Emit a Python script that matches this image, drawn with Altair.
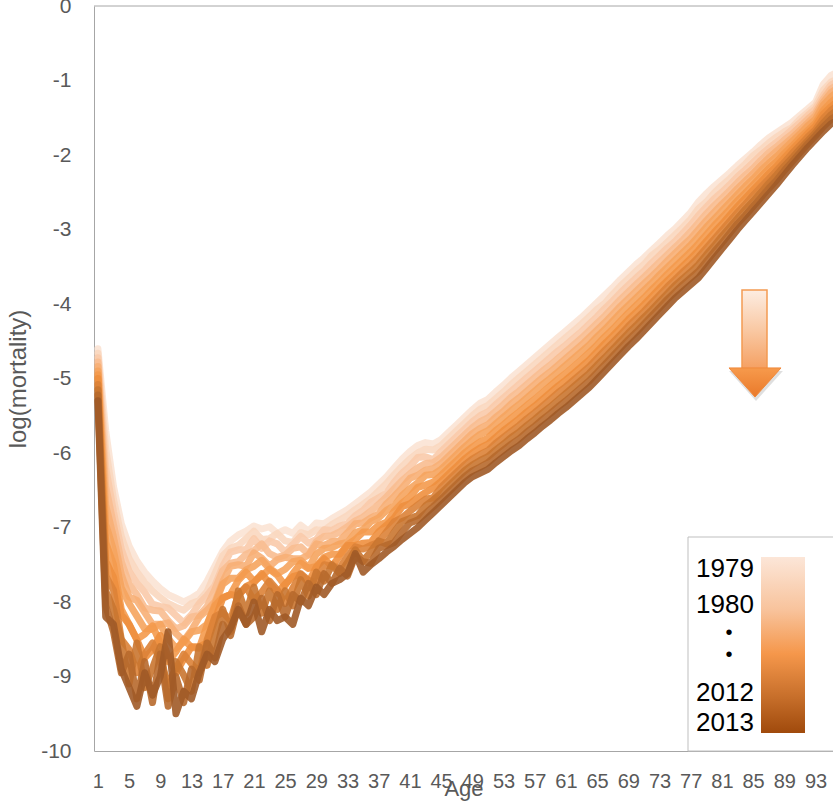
import altair as alt
import pandas as pd

ages = list(range(1, 97))
years = [1979, 1982, 1985, 1988, 1991, 1994, 1997, 2000, 2003, 2006, 2009, 2013]

y1979 = [
    -4.60, -5.70, -6.45, -6.95, -7.25, -7.45, -7.60, -7.72, -7.82, -7.90,
    -7.95, -8.00, -7.95, -7.88, -7.72, -7.52, -7.32, -7.18, -7.10, -7.05,
    -6.98, -7.02, -6.99, -7.08, -7.03, -7.08, -6.97, -7.05, -6.94, -6.95,
    -6.88, -6.82, -6.76, -6.68, -6.60, -6.52, -6.42, -6.32, -6.20, -6.08,
    -5.98, -5.90, -5.86, -5.88, -5.82, -5.72, -5.62, -5.52, -5.42, -5.33,
    -5.28, -5.18, -5.09, -4.99, -4.90, -4.81, -4.72, -4.63, -4.54, -4.45,
    -4.36, -4.27, -4.18, -4.08, -3.98, -3.88, -3.78, -3.67, -3.57, -3.47,
    -3.38, -3.28, -3.18, -3.08, -2.99, -2.88, -2.77, -2.63, -2.52, -2.42,
    -2.33, -2.24, -2.14, -2.05, -1.96, -1.86, -1.77, -1.70, -1.63, -1.56,
    -1.47, -1.38, -1.29, -1.05, -0.93, -0.88]
y1982 = [
    -4.66, -5.95, -6.62, -7.12, -7.42, -7.60, -7.74, -7.85, -7.94, -8.02,
    -8.07, -8.11, -8.02, -7.98, -7.86, -7.62, -7.38, -7.28, -7.24, -7.15,
    -7.05, -7.16, -7.15, -7.08, -7.18, -7.20, -7.07, -7.10, -7.03, -7.04,
    -6.96, -6.90, -6.84, -6.76, -6.69, -6.61, -6.51, -6.41, -6.29, -6.18,
    -6.08, -6.00, -5.95, -5.96, -5.90, -5.80, -5.70, -5.60, -5.50, -5.41,
    -5.36, -5.27, -5.18, -5.08, -4.99, -4.90, -4.81, -4.72, -4.63, -4.54,
    -4.45, -4.36, -4.27, -4.17, -4.07, -3.99, -3.87, -3.76, -3.66, -3.56,
    -3.47, -3.35, -3.27, -3.17, -3.07, -2.97, -2.86, -2.72, -2.63, -2.51,
    -2.41, -2.32, -2.22, -2.12, -2.01, -1.93, -1.84, -1.76, -1.69, -1.63,
    -1.52, -1.43, -1.34, -1.13, -1.02, -0.97]
y1985 = [
    -4.72, -6.20, -6.79, -7.29, -7.59, -7.75, -7.87, -8.03, -8.06, -8.08,
    -8.18, -8.28, -8.17, -8.02, -7.91, -7.78, -7.52, -7.33, -7.30, -7.30,
    -7.15, -7.28, -7.18, -7.22, -7.33, -7.23, -7.12, -7.21, -7.16, -7.03,
    -7.04, -6.98, -6.95, -6.84, -6.77, -6.66, -6.60, -6.54, -6.39, -6.27,
    -6.18, -6.06, -6.05, -6.09, -5.98, -5.88, -5.78, -5.68, -5.58, -5.50,
    -5.45, -5.35, -5.26, -5.17, -5.08, -4.99, -4.90, -4.81, -4.72, -4.63,
    -4.55, -4.46, -4.37, -4.27, -4.17, -4.06, -3.96, -3.85, -3.75, -3.65,
    -3.56, -3.45, -3.35, -3.25, -3.16, -3.05, -2.94, -2.81, -2.70, -2.59,
    -2.50, -2.40, -2.29, -2.20, -2.10, -2.00, -1.91, -1.83, -1.75, -1.66,
    -1.57, -1.47, -1.38, -1.20, -1.06, -1.00]
y1988 = [
    -4.78, -6.45, -6.96, -7.46, -7.76, -7.90, -8.08, -8.11, -8.12, -8.25,
    -8.36, -8.32, -8.20, -8.18, -8.06, -7.83, -7.58, -7.48, -7.46, -7.36,
    -7.31, -7.22, -7.35, -7.40, -7.37, -7.28, -7.26, -7.36, -7.19, -7.12,
    -7.11, -7.06, -6.99, -6.91, -6.86, -6.78, -6.69, -6.59, -6.48, -6.37,
    -6.28, -6.20, -6.14, -6.13, -6.06, -5.96, -5.86, -5.76, -5.66, -5.58,
    -5.53, -5.44, -5.35, -5.25, -5.17, -5.08, -4.99, -4.90, -4.82, -4.73,
    -4.64, -4.55, -4.46, -4.36, -4.26, -4.16, -4.05, -3.94, -3.84, -3.74,
    -3.64, -3.54, -3.44, -3.34, -3.24, -3.14, -3.03, -2.91, -2.79, -2.68,
    -2.58, -2.48, -2.37, -2.27, -2.18, -2.07, -1.97, -1.89, -1.80, -1.72,
    -1.62, -1.52, -1.43, -1.25, -1.11, -1.05]
y1991 = [
    -4.84, -6.70, -7.13, -7.63, -7.93, -7.98, -8.14, -8.30, -8.30, -8.28,
    -8.42, -8.52, -8.38, -8.20, -8.11, -8.00, -7.73, -7.52, -7.50, -7.52,
    -7.34, -7.41, -7.52, -7.43, -7.40, -7.42, -7.42, -7.37, -7.22, -7.24,
    -7.19, -7.18, -7.07, -6.95, -6.94, -6.87, -6.82, -6.68, -6.58, -6.47,
    -6.34, -6.30, -6.23, -6.21, -6.14, -6.04, -5.94, -5.84, -5.74, -5.67,
    -5.62, -5.52, -5.44, -5.34, -5.26, -5.17, -5.08, -4.99, -4.91, -4.82,
    -4.73, -4.64, -4.55, -4.45, -4.35, -4.25, -4.14, -4.03, -3.93, -3.83,
    -3.73, -3.63, -3.53, -3.42, -3.32, -3.22, -3.12, -3.00, -2.88, -2.77,
    -2.66, -2.56, -2.45, -2.35, -2.25, -2.14, -2.04, -1.95, -1.86, -1.77,
    -1.67, -1.57, -1.47, -1.29, -1.16, -1.09]
y1994 = [
    -4.90, -6.95, -7.31, -7.81, -8.02, -8.19, -8.36, -8.36, -8.30, -8.49,
    -8.62, -8.54, -8.40, -8.38, -8.30, -8.03, -7.76, -7.68, -7.68, -7.57,
    -7.52, -7.44, -7.55, -7.62, -7.56, -7.46, -7.44, -7.54, -7.36, -7.28,
    -7.27, -7.22, -7.20, -7.07, -7.03, -6.92, -6.87, -6.77, -6.71, -6.57,
    -6.48, -6.40, -6.30, -6.29, -6.22, -6.12, -6.02, -5.92, -5.83, -5.75,
    -5.70, -5.61, -5.52, -5.43, -5.35, -5.26, -5.17, -5.08, -5.00, -4.91,
    -4.82, -4.73, -4.64, -4.55, -4.44, -4.34, -4.23, -4.12, -4.02, -3.92,
    -3.82, -3.72, -3.61, -3.51, -3.41, -3.31, -3.21, -3.09, -2.97, -2.86,
    -2.75, -2.64, -2.53, -2.42, -2.32, -2.21, -2.11, -2.02, -1.92, -1.82,
    -1.72, -1.61, -1.52, -1.33, -1.22, -1.14]
y1997 = [
    -4.95, -7.20, -7.50, -8.10, -8.30, -8.50, -8.43, -8.32, -8.55, -8.80,
    -8.67, -8.50, -8.61, -8.62, -8.31, -8.05, -7.94, -7.90, -7.71, -7.60,
    -7.72, -7.65, -7.56, -7.64, -7.78, -7.62, -7.48, -7.55, -7.52, -7.40,
    -7.36, -7.36, -7.23, -7.16, -7.06, -7.06, -6.97, -6.93, -6.78, -6.67,
    -6.59, -6.46, -6.43, -6.39, -6.30, -6.20, -6.10, -6.00, -5.92, -5.85,
    -5.80, -5.70, -5.62, -5.53, -5.45, -5.36, -5.28, -5.19, -5.10, -5.01,
    -4.93, -4.84, -4.75, -4.65, -4.55, -4.44, -4.34, -4.23, -4.12, -4.02,
    -3.92, -3.81, -3.71, -3.60, -3.50, -3.40, -3.30, -3.19, -3.07, -2.95,
    -2.84, -2.73, -2.61, -2.51, -2.40, -2.29, -2.18, -2.09, -1.98, -1.88,
    -1.77, -1.67, -1.57, -1.40, -1.29, -1.20]
y2000 = [
    -5.00, -7.45, -7.67, -8.17, -8.30, -8.51, -8.75, -8.64, -8.45, -8.73,
    -8.95, -8.77, -8.60, -8.60, -8.55, -8.24, -7.95, -7.90, -7.92, -7.79,
    -7.74, -7.62, -7.75, -7.88, -7.76, -7.66, -7.63, -7.74, -7.53, -7.42,
    -7.52, -7.38, -7.24, -7.24, -7.21, -7.20, -7.06, -6.97, -6.87, -6.72,
    -6.68, -6.60, -6.53, -6.47, -6.38, -6.28, -6.18, -6.08, -6.00, -5.93,
    -5.88, -5.79, -5.70, -5.62, -5.54, -5.45, -5.37, -5.28, -5.19, -5.10,
    -5.02, -4.93, -4.84, -4.75, -4.64, -4.53, -4.43, -4.32, -4.21, -4.11,
    -4.01, -3.90, -3.79, -3.69, -3.59, -3.49, -3.39, -3.28, -3.16, -3.04,
    -2.93, -2.81, -2.69, -2.58, -2.47, -2.36, -2.25, -2.15, -2.04, -1.93,
    -1.82, -1.71, -1.61, -1.45, -1.35, -1.26]
y2003 = [
    -5.08, -7.65, -7.84, -8.50, -8.64, -8.95, -8.70, -8.55, -8.79, -9.10,
    -8.90, -8.70, -8.83, -8.95, -8.51, -8.20, -8.14, -8.25, -7.90, -7.80,
    -7.98, -7.87, -7.72, -7.84, -8.02, -7.81, -7.62, -7.71, -7.74, -7.50,
    -7.52, -7.54, -7.39, -7.26, -7.29, -7.24, -7.20, -7.06, -6.92, -6.87,
    -6.78, -6.70, -6.62, -6.60, -6.46, -6.36, -6.26, -6.16, -6.08, -6.02,
    -5.97, -5.87, -5.79, -5.71, -5.63, -5.54, -5.46, -5.37, -5.28, -5.19,
    -5.11, -5.02, -4.93, -4.84, -4.73, -4.62, -4.52, -4.41, -4.30, -4.20,
    -4.10, -3.99, -3.88, -3.77, -3.67, -3.57, -3.48, -3.37, -3.25, -3.13,
    -3.01, -2.89, -2.77, -2.66, -2.54, -2.43, -2.32, -2.21, -2.10, -1.98,
    -1.87, -1.76, -1.66, -1.51, -1.40, -1.32]
y2006 = [
    -5.15, -7.85, -8.10, -8.51, -9.10, -8.55, -9.15, -8.89, -8.60, -9.30,
    -8.80, -8.98, -9.20, -8.60, -8.85, -8.45, -8.10, -8.40, -7.85, -8.15,
    -7.80, -8.15, -7.85, -8.10, -7.85, -8.05, -7.70, -7.92, -7.60, -7.72,
    -7.50, -7.62, -7.47, -7.30, -7.45, -7.32, -7.18, -7.22, -7.06, -6.92,
    -6.88, -6.84, -6.71, -6.63, -6.54, -6.44, -6.34, -6.24, -6.16, -6.10,
    -6.05, -5.96, -5.88, -5.79, -5.72, -5.63, -5.55, -5.46, -5.38, -5.29,
    -5.20, -5.11, -5.02, -4.93, -4.82, -4.72, -4.61, -4.50, -4.39, -4.29,
    -4.18, -4.08, -3.97, -3.86, -3.75, -3.66, -3.57, -3.47, -3.34, -3.22,
    -3.09, -2.97, -2.85, -2.73, -2.62, -2.50, -2.38, -2.27, -2.15, -2.04,
    -1.92, -1.81, -1.70, -1.57, -1.46, -1.38]
y2009 = [
    -5.22, -8.05, -8.40, -8.95, -8.70, -9.30, -8.80, -9.35, -8.70, -9.40,
    -9.00, -9.35, -8.90, -9.05, -8.55, -8.75, -8.30, -8.45, -8.05, -8.30,
    -8.20, -7.95, -8.25, -7.90, -8.20, -7.90, -8.00, -7.75, -7.90, -7.62,
    -7.75, -7.55, -7.65, -7.38, -7.46, -7.48, -7.28, -7.24, -7.20, -7.06,
    -6.94, -6.90, -6.81, -6.72, -6.62, -6.52, -6.42, -6.32, -6.24, -6.19,
    -6.13, -6.04, -5.96, -5.88, -5.81, -5.72, -5.64, -5.55, -5.47, -5.38,
    -5.30, -5.21, -5.12, -5.03, -4.92, -4.81, -4.70, -4.59, -4.48, -4.38,
    -4.27, -4.16, -4.05, -3.94, -3.84, -3.74, -3.65, -3.56, -3.43, -3.30,
    -3.18, -3.05, -2.92, -2.81, -2.69, -2.57, -2.45, -2.34, -2.21, -2.09,
    -1.97, -1.85, -1.74, -1.62, -1.52, -1.45]
y2013 = [
    -5.30, -8.20, -8.30, -8.90, -9.15, -9.40, -8.95, -9.25, -9.00, -8.40,
    -9.50, -9.20, -9.30, -8.95, -8.70, -8.80, -8.50, -8.35, -8.10, -8.30,
    -8.00, -8.40, -8.10, -8.25, -8.20, -8.30, -7.95, -8.05, -7.80, -7.90,
    -7.75, -7.70, -7.62, -7.35, -7.60, -7.50, -7.42, -7.33, -7.25, -7.16,
    -7.08, -7.00, -6.90, -6.80, -6.70, -6.60, -6.50, -6.40, -6.32, -6.27,
    -6.22, -6.13, -6.05, -5.97, -5.90, -5.81, -5.73, -5.64, -5.56, -5.47,
    -5.39, -5.30, -5.21, -5.12, -5.01, -4.90, -4.79, -4.68, -4.57, -4.47,
    -4.36, -4.25, -4.14, -4.03, -3.92, -3.83, -3.74, -3.65, -3.52, -3.39,
    -3.26, -3.13, -3.00, -2.88, -2.76, -2.64, -2.52, -2.40, -2.27, -2.14,
    -2.02, -1.90, -1.79, -1.68, -1.58, -1.52]

series = [y1979, y1982, y1985, y1988, y1991, y1994,
          y1997, y2000, y2003, y2006, y2009, y2013]

x_tick_values = list(range(1, 94, 4))
y_tick_values = list(range(-10, 1))
legend_labels = ["1979", "1980", "•", "•", "2012", "2013"]

rows = []
for yr, vals in zip(years, series):
    for a, v in zip(ages, vals):
        rows.append({"Age": a, "Year": yr, "logm": v})
df = pd.DataFrame(rows)

FONT = "Liberation Sans, Arial, sans-serif"
GRAY = "#595959"
BORDER = "#A6A6A6"
W, H = 739, 745

color_domain = [1979, 1985.8, 1992.6, 1999.4, 2006.2, 2013]
color_range = ["#FBE3D4", "#F8C7A4", "#F6A866", "#F2923F", "#C87430", "#A05A27"]

lines = alt.Chart(df).mark_line(
    strokeWidth=7, strokeJoin="round", strokeCap="round", opacity=0.9, clip=True
).encode(
    x=alt.X("Age:Q",
            scale=alt.Scale(domain=[0.5, 95.24], nice=False, zero=False),
            axis=alt.Axis(values=x_tick_values, format="d", ticks=False, grid=False,
                          domainColor=BORDER, labelColor=GRAY, labelFont=FONT,
                          labelFontSize=20, labelPadding=20, labelOverlap=False,
                          labelFlush=False, title="Age", titleFont=FONT,
                          titleFontSize=22, titleColor=GRAY, titleFontWeight="normal",
                          titleY=27, titleX=W / 2)),
    y=alt.Y("logm:Q",
            scale=alt.Scale(domain=[-10, 0], nice=False, zero=False),
            axis=alt.Axis(values=y_tick_values,
                          labelExpr="datum.value == 0 ? '0' : '-' + abs(datum.value)",
                          ticks=False, grid=False, domainColor=BORDER,
                          labelColor=GRAY, labelFont=FONT, labelFontSize=21,
                          labelPadding=23, title="log(mortality)", titleFont=FONT,
                          titleFontSize=24, titleColor=GRAY, titleFontWeight="normal",
                          titleX=-64, titleY=H / 2)),
    color=alt.Color("Year:Q", scale=alt.Scale(domain=color_domain, range=color_range),
                    legend=None),
    detail="Year:N",
    order=alt.Order("Age:Q"),
)

one = pd.DataFrame({"k": [0]})

top_border = alt.Chart(one).mark_rule(color=BORDER, strokeWidth=1).encode(
    x=alt.value(0), x2=alt.value(W), y=alt.value(0))

shaft_grad = alt.LinearGradient(
    gradient="linear", x1=0, x2=0, y1=0, y2=1,
    stops=[alt.GradientStop(color="#FDEDE2", offset=0),
           alt.GradientStop(color="#F9C9A4", offset=0.5),
           alt.GradientStop(color="#F5A062", offset=1)])
head_grad = alt.LinearGradient(
    gradient="linear", x1=0, x2=0, y1=0, y2=1,
    stops=[alt.GradientStop(color="#F79A4C", offset=0),
           alt.GradientStop(color="#E9792A", offset=1)])
TRI = "M-1,-0.56L1,-0.56L0,0.56Z"

head_shadow = alt.Chart(one).mark_point(
    shape=TRI, size=2900, filled=True, color="#8C8C8C", opacity=0.28, strokeWidth=0
).encode(x=alt.value(662), y=alt.value(380))
shaft = alt.Chart(one).mark_rect(fill=shaft_grad, stroke="#F39A52", strokeWidth=1.5).encode(
    x=alt.value(648), x2=alt.value(673), y=alt.value(284), y2=alt.value(363))
head = alt.Chart(one).mark_point(
    shape=TRI, size=2704, filled=True, fill=head_grad, stroke="#F0883A",
    strokeWidth=1, opacity=1
).encode(x=alt.value(661), y=alt.value(376.5))

legend_box = alt.Chart(one).mark_rect(fill="white", stroke="#BFBFBF", strokeWidth=1).encode(
    x=alt.value(594), x2=alt.value(760), y=alt.value(531), y2=alt.value(745))
bar_grad = alt.LinearGradient(
    gradient="linear", x1=0, x2=0, y1=0, y2=1,
    stops=[alt.GradientStop(color="#FCE6D8", offset=0),
           alt.GradientStop(color="#F8C39C", offset=0.3),
           alt.GradientStop(color="#F5974B", offset=0.55),
           alt.GradientStop(color="#C66E2A", offset=0.8),
           alt.GradientStop(color="#A04A0C", offset=1)])
legend_bar = alt.Chart(one).mark_rect(fill=bar_grad).encode(
    x=alt.value(667), x2=alt.value(711), y=alt.value(551), y2=alt.value(727))

label_pos = [563, 599, 627, 649, 687, 717]
legend_texts = []
for lab, yp in zip(legend_labels, label_pos):
    if lab == "•":
        t = alt.Chart(one).mark_text(text=lab, align="center", baseline="middle",
                                     font=FONT, fontSize=20, color="black").encode(
            x=alt.value(635), y=alt.value(yp))
    else:
        t = alt.Chart(one).mark_text(text=lab, align="left", baseline="middle",
                                     font=FONT, fontSize=26, color="black").encode(
            x=alt.value(602), y=alt.value(yp))
    legend_texts.append(t)

chart = alt.layer(
    lines, top_border, head_shadow, shaft, head, legend_box, legend_bar, *legend_texts
).properties(
    width=W, height=H,
    autosize=alt.AutoSizeParams(type="none"),
    padding={"left": 94, "top": 6, "right": 0, "bottom": 52},
    background="white",
).configure_view(stroke=None)

chart.save("out.html", embed_options={"renderer": "svg", "actions": False})
